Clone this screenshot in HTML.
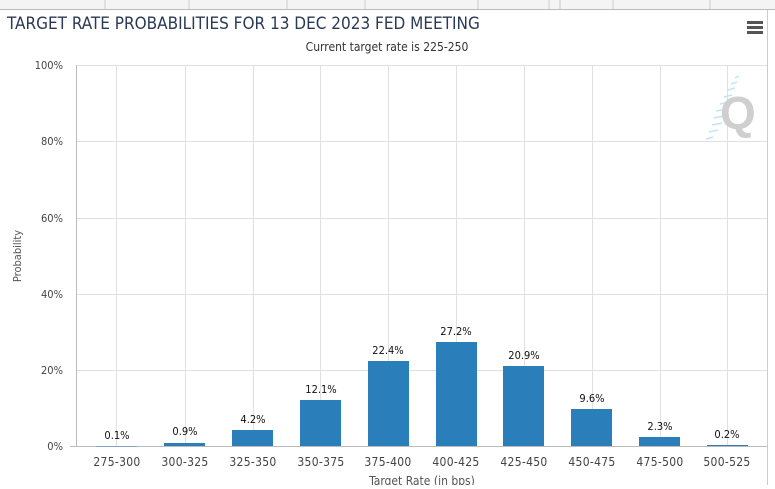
<!DOCTYPE html>
<html><head><style>
body{margin:0;background:#fff;width:775px;height:485px;overflow:hidden;font-family:"DejaVu Sans Condensed","Liberation Sans",sans-serif;}
</style></head><body>
<svg width="775" height="485" xmlns="http://www.w3.org/2000/svg" font-family="DejaVu Sans Condensed, Liberation Sans, sans-serif">
<rect x="0" y="0" width="775" height="10" fill="#f4f4f4"/>
<line x1="0" y1="9.5" x2="775" y2="9.5" stroke="#bbb"/>
<g stroke="#ccc"><line x1="105" y1="0" x2="105" y2="9"/><line x1="189" y1="0" x2="189" y2="9"/><line x1="287" y1="0" x2="287" y2="9"/><line x1="365" y1="0" x2="365" y2="9"/><line x1="478" y1="0" x2="478" y2="9"/><line x1="549" y1="0" x2="549" y2="9"/><line x1="560" y1="0" x2="560" y2="9"/><line x1="613" y1="0" x2="613" y2="9"/><line x1="710" y1="0" x2="710" y2="9"/></g>
<line x1="767.5" y1="10" x2="767.5" y2="485" stroke="#ccc"/>
<text x="7" y="29" font-size="17" fill="#2a3a55">TARGET RATE PROBABILITIES FOR 13 DEC 2023 FED MEETING</text>
<g fill="#555"><rect x="747" y="21" width="16" height="3"/><rect x="747" y="26" width="16" height="3"/><rect x="747" y="31" width="16" height="3"/></g>
<text x="387" y="51" font-size="12" fill="#333" text-anchor="middle">Current target rate is 225-250</text>
<g stroke="#e0e0e0">
<line x1="77" y1="65.5" x2="767" y2="65.5"/><line x1="77" y1="141.5" x2="767" y2="141.5"/><line x1="77" y1="218.5" x2="767" y2="218.5"/><line x1="77" y1="294.5" x2="767" y2="294.5"/><line x1="77" y1="370.5" x2="767" y2="370.5"/>
<line x1="116.5" y1="65" x2="116.5" y2="446"/><line x1="185.5" y1="65" x2="185.5" y2="446"/><line x1="253.5" y1="65" x2="253.5" y2="446"/><line x1="320.5" y1="65" x2="320.5" y2="446"/><line x1="388.5" y1="65" x2="388.5" y2="446"/><line x1="456.5" y1="65" x2="456.5" y2="446"/><line x1="524.5" y1="65" x2="524.5" y2="446"/><line x1="592.5" y1="65" x2="592.5" y2="446"/><line x1="660.5" y1="65" x2="660.5" y2="446"/><line x1="727.5" y1="65" x2="727.5" y2="446"/>
</g>
<line x1="76.5" y1="65" x2="76.5" y2="446" stroke="#bbb"/>
<line x1="70" y1="446.5" x2="767" y2="446.5" stroke="#bbb"/>
<g font-size="11" fill="#444" text-anchor="end">
<text x="63" y="69">100%</text><text x="63" y="145">80%</text><text x="63" y="222">60%</text><text x="63" y="298">40%</text><text x="63" y="374">20%</text><text x="63" y="450">0%</text>
</g>
<text transform="translate(21,256) rotate(-90)" font-size="11" fill="#555" text-anchor="middle">Probability</text>
<g stroke="#bfe6f0" stroke-width="1.5"><line x1="735" y1="78" x2="739" y2="76"/><line x1="731" y1="84" x2="737" y2="82"/><line x1="728" y1="90" x2="735" y2="88"/><line x1="724" y1="97" x2="732" y2="95"/><line x1="720" y1="104" x2="730" y2="102"/><line x1="716" y1="111" x2="727" y2="109"/><line x1="714" y1="118" x2="724" y2="116"/><line x1="712" y1="125" x2="722" y2="123"/><line x1="709" y1="132" x2="718" y2="130"/><line x1="706" y1="139" x2="713" y2="137"/></g>
<text x="720" y="129" font-size="46" font-weight="bold" fill="#cfcfcf" font-family="Liberation Sans, sans-serif">Q</text>
<g fill="#2a7fba">
<rect x="96" y="446" width="41" height="0.4"/>
<rect x="164" y="443" width="41" height="3"/>
<rect x="232" y="430" width="41" height="16"/>
<rect x="300" y="400" width="41" height="46"/>
<rect x="368" y="361" width="41" height="85"/>
<rect x="436" y="342" width="41" height="104"/>
<rect x="503" y="366" width="41" height="80"/>
<rect x="571" y="409" width="41" height="37"/>
<rect x="639" y="437" width="41" height="9"/>
<rect x="707" y="445" width="41" height="1"/>
</g>
<g font-size="11" fill="#111" text-anchor="middle">
<text x="117" y="439">0.1%</text><text x="185" y="435">0.9%</text><text x="253" y="423">4.2%</text><text x="321" y="393">12.1%</text><text x="388" y="354">22.4%</text><text x="456" y="335">27.2%</text><text x="524" y="359">20.9%</text><text x="592" y="402">9.6%</text><text x="660" y="430">2.3%</text><text x="727" y="438">0.2%</text>
</g>
<g font-size="12" fill="#444" text-anchor="middle" letter-spacing="0.3">
<text x="117" y="466">275-300</text><text x="185" y="466">300-325</text><text x="253" y="466">325-350</text><text x="321" y="466">350-375</text><text x="388" y="466">375-400</text><text x="456" y="466">400-425</text><text x="524" y="466">425-450</text><text x="592" y="466">450-475</text><text x="660" y="466">475-500</text><text x="727" y="466">500-525</text>
</g>
<text x="422" y="485" font-size="12" fill="#555" text-anchor="middle">Target Rate (in bps)</text>
</svg>
</body></html>
